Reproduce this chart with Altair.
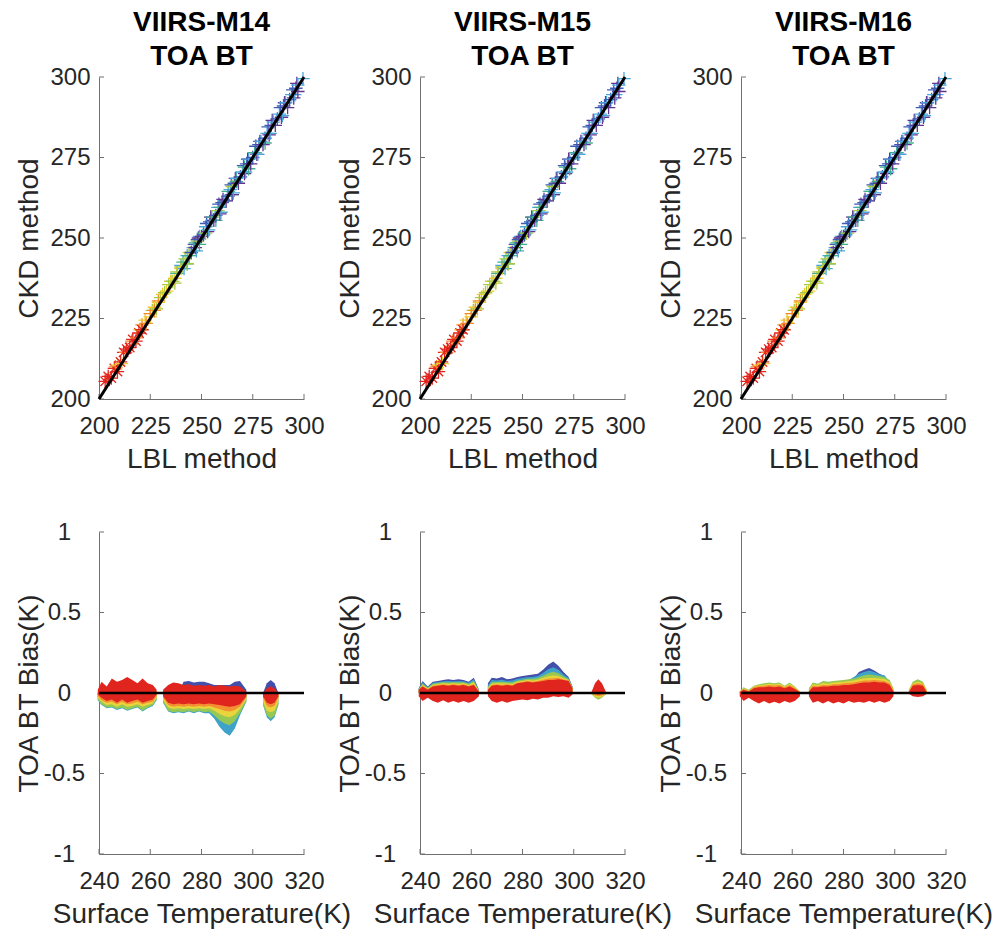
import altair as alt
import pandas as pd

FONT = "Liberation Sans"
TXT = "#262626"
AXC = "#707070"
W, H = 205, 322

# ---------------- top row: CKD vs LBL scatter (per colour group) ----------------
groups = ["cyan", "teal", "ygreen", "yellow", "orange", "red", "blue", "purple"]
group_colors = ["#4aa5dc", "#3fae8f", "#a9c93f", "#eccb2e", "#f4862a", "#e2231b", "#3d5bb5", "#62338f"]
PLUS = "M-1,0L1,0M0,-1L0,1"
STAR = "M-1,0L1,0M0,-1L0,1M-0.7,-0.7L0.7,0.7M-0.7,0.7L0.7,-0.7"
group_shapes = [PLUS, PLUS, PLUS, PLUS, PLUS, STAR, PLUS, PLUS]

red_lbl = [203, 204.5, 206, 207.5, 209, 210.5, 212, 213.5, 215, 216.5, 218, 219.5, 221]
red_ckd = [205.5, 207, 206.5, 209.5, 208.5, 211.5, 214.5, 215.5, 216, 218.5, 218, 220.5, 221.5]
orange_lbl = [208, 213, 216, 218.5, 221, 223, 225, 227, 229]
orange_ckd = [210, 214.5, 218, 219, 223, 223.5, 226.5, 227.5, 230.5]
yellow_lbl = [209, 211, 220, 222.5, 225, 227, 229, 231, 233, 235, 237, 240, 244]
yellow_ckd = [210.5, 211, 221.5, 224.5, 225.5, 228.5, 230, 232.5, 233.5, 236.5, 237.5, 240.5, 245.5]
ygreen_lbl = [226, 228, 230, 232, 234, 236, 237, 238, 240, 242, 243, 245, 248, 252, 258, 265]
ygreen_ckd = [227.5, 228, 231.5, 233, 235.5, 236.5, 236, 239.5, 241, 243.5, 242, 245.5, 249, 251.5, 258.5, 266]
teal_lbl = [235, 238, 241, 243, 244, 247, 249, 251, 255, 257, 259, 263, 265, 267, 271, 273, 276, 281]
teal_ckd = [236.5, 239, 242.5, 242, 244.5, 248.5, 248, 251.5, 256.5, 255.5, 259.5, 264.5, 263.5, 267.5, 272, 271.5, 276.5, 279.5]
cyan_lbl = [240, 241.5, 243, 246, 247.5, 249, 252, 253.5, 255, 258, 259.5, 261, 264, 265.5, 267, 270, 271.5, 273,
            276, 277.5, 279, 282, 283.5, 285, 288, 289.5, 291, 294, 295.5, 297, 299.5]
cyan_ckd = [241.5, 240.5, 244.5, 247, 246, 250.5, 253.5, 252.5, 255.5, 259.5, 258, 261.5, 265, 264, 268.5, 270.5, 270.5, 274.5,
            276.5, 276, 280, 282.5, 282.5, 286, 288.5, 288, 292, 294.5, 294.5, 297.5, 299.5]
blue_lbl = [245, 246.5, 248, 251, 252.5, 254, 257, 258.5, 260, 263, 264.5, 266, 269, 270.5, 272, 275, 276.5, 278,
            281, 282.5, 284, 287, 288.5, 290, 293, 294.5, 296]
blue_ckd = [245.5, 248, 249.5, 251, 254.5, 255, 257, 260.5, 261, 263, 266.5, 267, 269, 272.5, 273, 275, 278.5, 279,
            281, 284.5, 285, 287, 290.5, 291, 293, 296, 296.5]
purple_lbl = [247, 248.5, 250, 253, 254.5, 256, 259, 260.5, 262, 265, 266.5, 268, 271, 272.5, 274, 277, 278.5, 280,
              283, 284.5, 286, 289, 290.5, 292, 295, 296.5, 297]
purple_ckd = [247, 250, 250.5, 252, 256.5, 255.5, 257.5, 262, 261.5, 263.5, 268.5, 267, 270, 274.5, 273, 276, 280, 279,
              282, 286.5, 285, 287.5, 292, 290.5, 293.5, 298, 295.5]

scatter_sets = {
    "cyan": (cyan_lbl, cyan_ckd), "teal": (teal_lbl, teal_ckd), "ygreen": (ygreen_lbl, ygreen_ckd),
    "yellow": (yellow_lbl, yellow_ckd), "orange": (orange_lbl, orange_ckd), "red": (red_lbl, red_ckd),
    "blue": (blue_lbl, blue_ckd), "purple": (purple_lbl, purple_ckd),
}
rows = []
for g in groups:
    a, b = scatter_sets[g]
    assert len(a) == len(b), g
    for xv, yv in zip(a, b):
        rows.append({"x": xv, "y": yv, "grp": g})
scatter_df = pd.DataFrame(rows)

one_to_one = pd.DataFrame({"x": [200, 300], "y": [200, 300]})
top_ticks = [200, 225, 250, 275, 300]
bot_xticks = [240, 260, 280, 300, 320]
bot_yticks = [-1, -0.5, 0, 0.5, 1]

# ---------------- bottom row: TOA BT bias bands ----------------
band_levels = ["blue", "cyan", "green", "yellow", "orange", "red"]
band_colors = {"blue": "#4350aa", "cyan": "#3fa2c8", "green": "#95c953", "yellow": "#ead43c",
               "orange": "#f39032", "red": "#e0251f"}

# M14
m14_ts = [239.5, 241, 243, 245, 247, 249, 251, 253, 255, 257, 259, 261, 262.5,
          265, 267, 269, 271, 273, 275, 277, 279, 281, 283, 285, 287, 289, 291, 293, 295, 297.5,
          304, 305.5, 307, 308.5, 310]
m14_seg = [1] * 13 + [2] * 17 + [3] * 5
m14_blue = [0] * 13 + [0, 0, 0, 0, 0.07, 0.075, 0.065, 0.07, 0.07, 0.06, 0.05, 0.05, 0.05, 0.05, 0.07, 0.075, 0.02] + [0.0, 0.06, 0.08, 0.06, 0.0]
m14_cyan = [-0.045, -0.075, -0.095, -0.09, -0.105, -0.095, -0.11, -0.1, -0.09, -0.115, -0.095, -0.08, -0.045,
            -0.06, -0.115, -0.125, -0.12, -0.125, -0.115, -0.125, -0.115, -0.125, -0.125, -0.16, -0.21, -0.245, -0.265, -0.22, -0.14, -0.055,
            -0.075, -0.15, -0.175, -0.15, -0.075]
m14_green = [-0.04, -0.07, -0.09, -0.085, -0.10, -0.09, -0.105, -0.095, -0.085, -0.11, -0.09, -0.075, -0.04,
             -0.055, -0.11, -0.12, -0.115, -0.12, -0.11, -0.12, -0.11, -0.12, -0.115, -0.14, -0.17, -0.19, -0.20, -0.175, -0.125, -0.05,
             -0.07, -0.14, -0.16, -0.14, -0.07]
m14_yellow = [-0.03, -0.055, -0.075, -0.07, -0.085, -0.07, -0.085, -0.08, -0.07, -0.085, -0.075, -0.065, -0.03,
              -0.045, -0.09, -0.10, -0.095, -0.10, -0.095, -0.10, -0.095, -0.10, -0.095, -0.11, -0.13, -0.145, -0.15, -0.135, -0.10, -0.04,
              -0.05, -0.11, -0.12, -0.11, -0.05]
m14_orange = [-0.02, -0.045, -0.06, -0.055, -0.07, -0.055, -0.07, -0.065, -0.055, -0.07, -0.06, -0.055, -0.02,
              -0.03, -0.075, -0.085, -0.08, -0.085, -0.08, -0.085, -0.08, -0.085, -0.08, -0.09, -0.10, -0.11, -0.115, -0.105, -0.085, -0.03,
              -0.03, -0.08, -0.09, -0.08, -0.03]
m14_red_lo = [-0.01, -0.03, -0.05, -0.04, -0.06, -0.04, -0.06, -0.05, -0.04, -0.06, -0.05, -0.04, -0.01,
              -0.02, -0.06, -0.07, -0.065, -0.07, -0.065, -0.07, -0.065, -0.07, -0.065, -0.07, -0.075, -0.08, -0.085, -0.08, -0.07, -0.02,
              -0.02, -0.06, -0.07, -0.06, -0.02]
m14_red_hi = [0.02, 0.07, 0.04, 0.09, 0.07, 0.08, 0.10, 0.08, 0.06, 0.09, 0.06, 0.05, 0.02,
              0.02, 0.05, 0.065, 0.06, 0.05, 0.055, 0.045, 0.05, 0.045, 0.05, 0.04, 0.05, 0.045, 0.04, 0.045, 0.04, 0.01,
              0.0, 0.03, 0.04, 0.03, 0.0]

# M15
m15_ts = [239.5, 241, 243, 245, 247, 249, 251, 253, 255, 257, 259, 261, 263,
          266.5, 268, 270, 272, 274, 276, 278, 280, 282, 284, 286, 288, 290, 292, 294, 296, 298, 299.5,
          307, 308.3, 309.6, 311, 312.5]
m15_seg = [1] * 13 + [2] * 18 + [3] * 5
m15_blue = [0.03, 0.075, 0.04, 0.07, 0.075, 0.08, 0.085, 0.08, 0.085, 0.08, 0.07, 0.095, 0.02,
            0.06, 0.095, 0.09, 0.10, 0.085, 0.09, 0.10, 0.105, 0.11, 0.115, 0.12, 0.145, 0.175, 0.195, 0.17, 0.13, 0.10, 0.04,
            0, 0, 0, 0, 0]
m15_cyan = [0.028, 0.066, 0.036, 0.063, 0.068, 0.073, 0.075, 0.073, 0.075, 0.073, 0.063, 0.085, 0.018,
            0.048, 0.08, 0.078, 0.083, 0.075, 0.077, 0.088, 0.093, 0.098, 0.1, 0.105, 0.124, 0.147, 0.16, 0.145, 0.115, 0.093, 0.037,
            0, 0, 0, 0, 0]
m15_green = [0.025, 0.057, 0.032, 0.057, 0.062, 0.067, 0.065, 0.067, 0.066, 0.067, 0.057, 0.075, 0.015,
             0.038, 0.067, 0.068, 0.07, 0.066, 0.065, 0.078, 0.083, 0.088, 0.088, 0.093, 0.107, 0.123, 0.132, 0.123, 0.103, 0.086, 0.035,
             -0.01, -0.03, -0.042, -0.03, -0.01]
m15_yellow = [0.022, 0.05, 0.028, 0.05, 0.055, 0.06, 0.057, 0.06, 0.057, 0.06, 0.05, 0.065, 0.012,
              0.03, 0.057, 0.06, 0.059, 0.059, 0.056, 0.07, 0.075, 0.08, 0.078, 0.083, 0.093, 0.104, 0.109, 0.106, 0.093, 0.081, 0.033,
              -0.005, -0.025, -0.03, -0.025, -0.005]
m15_orange = [0.02, 0.045, 0.025, 0.045, 0.05, 0.055, 0.05, 0.055, 0.05, 0.055, 0.045, 0.055, 0.01,
              0.024, 0.05, 0.054, 0.05, 0.054, 0.05, 0.064, 0.069, 0.074, 0.07, 0.075, 0.082, 0.09, 0.092, 0.094, 0.085, 0.078, 0.031,
              0.0, -0.015, -0.02, -0.015, 0.0]
m15_red_lo = [-0.02, -0.05, -0.03, -0.05, -0.06, -0.045, -0.06, -0.05, -0.06, -0.05, -0.06, -0.05, -0.02,
              -0.02, -0.05, -0.06, -0.05, -0.06, -0.05, -0.045, -0.04, -0.045, -0.035, -0.04, -0.03, -0.03, -0.02, -0.025, -0.02, -0.03, -0.01,
              0.0, -0.005, -0.01, -0.005, 0.0]
m15_red_hi = [0.02, 0.04, 0.02, 0.04, 0.045, 0.05, 0.045, 0.05, 0.045, 0.05, 0.04, 0.05, 0.01,
              0.02, 0.045, 0.05, 0.045, 0.05, 0.045, 0.06, 0.065, 0.07, 0.065, 0.07, 0.075, 0.08, 0.08, 0.085, 0.08, 0.075, 0.03,
              0.01, 0.06, 0.085, 0.06, 0.01]

# M16
m16_ts = [239.5, 241, 243, 245, 247, 249, 251, 253, 255, 257, 259, 261, 263,
          266.5, 268, 270, 272, 274, 276, 278, 280, 282, 284, 286, 288, 290, 292, 294, 296, 298, 299.5,
          305.5, 307, 309, 311, 312.5]
m16_seg = [1] * 13 + [2] * 18 + [3] * 5
m16_blue = [0] * 13 + [0, 0, 0, 0, 0, 0, 0, 0, 0, 0.09, 0.13, 0.145, 0.155, 0.14, 0.12, 0.105, 0, 0] + [0] * 5
m16_cyan = [0] * 13 + [0, 0, 0, 0, 0, 0, 0, 0.07, 0.08, 0.1, 0.12, 0.13, 0.14, 0.13, 0.115, 0.11, 0.07, 0] + [0] * 5
m16_green = [0.01, 0.035, 0.02, 0.045, 0.055, 0.06, 0.065, 0.06, 0.065, 0.045, 0.065, 0.04, 0.01,
             0.03, 0.065, 0.058, 0.075, 0.07, 0.075, 0.078, 0.08, 0.085, 0.09, 0.1, 0.11, 0.115, 0.11, 0.105, 0.1, 0.08, 0.03,
             0.02, 0.07, 0.085, 0.07, 0.02]
m16_yellow = [0.01, 0.03, 0.015, 0.04, 0.048, 0.052, 0.057, 0.053, 0.057, 0.04, 0.057, 0.035, 0.01,
              0.02, 0.055, 0.05, 0.062, 0.058, 0.065, 0.066, 0.07, 0.073, 0.077, 0.085, 0.09, 0.093, 0.093, 0.09, 0.087, 0.07, 0.02,
              0.015, 0.06, 0.07, 0.06, 0.015]
m16_orange = [0.008, 0.025, 0.012, 0.035, 0.042, 0.045, 0.05, 0.046, 0.05, 0.035, 0.05, 0.03, 0.008,
              0.015, 0.045, 0.043, 0.05, 0.048, 0.055, 0.055, 0.06, 0.062, 0.065, 0.072, 0.077, 0.078, 0.08, 0.077, 0.075, 0.06, 0.015,
              0.01, 0.055, 0.06, 0.055, 0.01]
m16_red_lo = [-0.02, -0.05, -0.03, -0.05, -0.065, -0.05, -0.065, -0.055, -0.065, -0.05, -0.06, -0.05, -0.02,
              -0.02, -0.06, -0.05, -0.065, -0.05, -0.065, -0.055, -0.065, -0.05, -0.06, -0.055, -0.06, -0.05, -0.06, -0.05, -0.06, -0.05, -0.02,
              -0.005, -0.02, -0.025, -0.02, -0.005]
m16_red_hi = [0.005, 0.02, 0.01, 0.03, 0.035, 0.035, 0.04, 0.035, 0.04, 0.03, 0.04, 0.025, 0.005,
              0.01, 0.035, 0.035, 0.04, 0.04, 0.045, 0.045, 0.05, 0.05, 0.055, 0.06, 0.065, 0.065, 0.07, 0.065, 0.065, 0.05, 0.01,
              0.005, 0.045, 0.05, 0.045, 0.005]


def band_df(ts, seg, blue, cyan, green, yellow, orange, red_lo, red_hi):
    edges = {"blue": blue, "cyan": cyan, "green": green, "yellow": yellow, "orange": orange}
    for arr in list(edges.values()) + [seg, red_lo, red_hi]:
        assert len(arr) == len(ts)
    out = []
    for lvl in band_levels[:-1]:
        for t, s, e in zip(ts, seg, edges[lvl]):
            out.append({"x": t, "seg": s, "lvl": lvl, "y": e, "y2": 0.0})
    for t, s, lo, hi in zip(ts, seg, red_lo, red_hi):
        out.append({"x": t, "seg": s, "lvl": "red", "y": lo, "y2": hi})
    return pd.DataFrame(out)


def x_axis(title, values):
    return alt.Axis(title=title, values=values, ticks=False, tickSize=0, grid=False,
                    domainColor=AXC, domainWidth=1,
                    labelFont=FONT, labelFontSize=24, labelColor=TXT, labelPadding=34,
                    labelBaseline="alphabetic", labelOverlap=False, labelFlush=False,
                    titleFont=FONT, titleFontSize=28, titleFontWeight="normal", titleColor=TXT,
                    titleY=68, titleBaseline="alphabetic")


def y_axis(title, values, align, pad, expr=None):
    kw = dict(title=title, values=values, ticks=False, tickSize=0, grid=False,
              domainColor=AXC, domainWidth=1,
              labelFont=FONT, labelFontSize=24, labelColor=TXT, labelPadding=pad,
              labelAlign=align, labelBaseline="middle", labelOverlap=False, labelFlush=False,
              titleFont=FONT, titleFontSize=28, titleFontWeight="normal", titleColor=TXT,
              titleX=-62, titleBaseline="alphabetic")
    if expr:
        kw["labelExpr"] = expr
    return alt.Axis(**kw)


def tick_layers(X, Y, xvals, yvals):
    xt = alt.Chart(pd.DataFrame({"x": xvals})).mark_rule(color=AXC, strokeWidth=1).encode(
        x=X, y=alt.value(H), y2=alt.value(H - 5))
    yt = alt.Chart(pd.DataFrame({"y": yvals})).mark_rule(color=AXC, strokeWidth=1).encode(
        y=Y, x=alt.value(0), x2=alt.value(5))
    return [xt, yt]


def top_panel(name):
    X = alt.X("x:Q", scale=alt.Scale(domain=[200, 300], nice=False, zero=False),
              axis=x_axis("LBL method", top_ticks))
    Y = alt.Y("y:Q", scale=alt.Scale(domain=[200, 300], nice=False, zero=False),
              axis=y_axis("CKD method", top_ticks, "right", 9))
    pts = alt.Chart(scatter_df).mark_point(filled=False, opacity=1, size=180, strokeWidth=1.3).encode(
        x=X, y=Y,
        color=alt.Color("grp:N", scale=alt.Scale(domain=groups, range=group_colors), legend=None),
        shape=alt.Shape("grp:N", scale=alt.Scale(domain=groups, range=group_shapes), legend=None),
        order=alt.Order("x:Q"))
    line = alt.Chart(one_to_one).mark_line(color="black", strokeWidth=3).encode(x=X, y=Y)
    return alt.layer(*tick_layers(X, Y, top_ticks, top_ticks), pts, line).properties(
        width=W, height=H,
        title=alt.TitleParams(text=[name, "TOA BT"], font=FONT, fontSize=28, fontWeight="bold",
                              color="black", lineHeight=34, offset=-28, baseline="alphabetic",
                              frame="group", anchor="middle"))


def bottom_panel(df):
    X = alt.X("x:Q", scale=alt.Scale(domain=[240, 320], nice=False, zero=False),
              axis=x_axis("Surface Temperature(K)", bot_xticks))
    Y = alt.Y("y:Q", scale=alt.Scale(domain=[-1, 1], nice=False, zero=False),
              axis=y_axis("TOA BT Bias(K)", bot_yticks, "center", 35, "'' + datum.value"))
    layers = tick_layers(X, Y, bot_xticks, bot_yticks)
    for lvl in band_levels:
        layers.append(
            alt.Chart(df).transform_filter(alt.datum.lvl == lvl)
            .mark_area(color=band_colors[lvl], orient="vertical", opacity=1)
            .encode(x=X, y=Y, y2="y2:Q", detail="seg:N"))
    zero = alt.Chart(pd.DataFrame({"x": [240], "x2": [320], "y": [0]})).mark_rule(
        color="black", strokeWidth=2.5).encode(x=X, x2="x2:Q", y=Y)
    layers.append(zero)
    return alt.layer(*layers).properties(width=W, height=H)


d14 = band_df(m14_ts, m14_seg, m14_blue, m14_cyan, m14_green, m14_yellow, m14_orange, m14_red_lo, m14_red_hi)
d15 = band_df(m15_ts, m15_seg, m15_blue, m15_cyan, m15_green, m15_yellow, m15_orange, m15_red_lo, m15_red_hi)
d16 = band_df(m16_ts, m16_seg, m16_blue, m16_cyan, m16_green, m16_yellow, m16_orange, m16_red_lo, m16_red_hi)

chart = alt.concat(
    top_panel("VIIRS-M14"), top_panel("VIIRS-M15"), top_panel("VIIRS-M16"),
    bottom_panel(d14), bottom_panel(d15), bottom_panel(d16),
    columns=3, spacing={"row": 133, "column": 116}, bounds="flush",
).properties(
    padding={"left": 15, "top": 9, "right": 5, "bottom": 5},
    background="white",
).configure_view(stroke=None)

chart.save("out.html", embed_options={"renderer": "svg", "actions": False})
